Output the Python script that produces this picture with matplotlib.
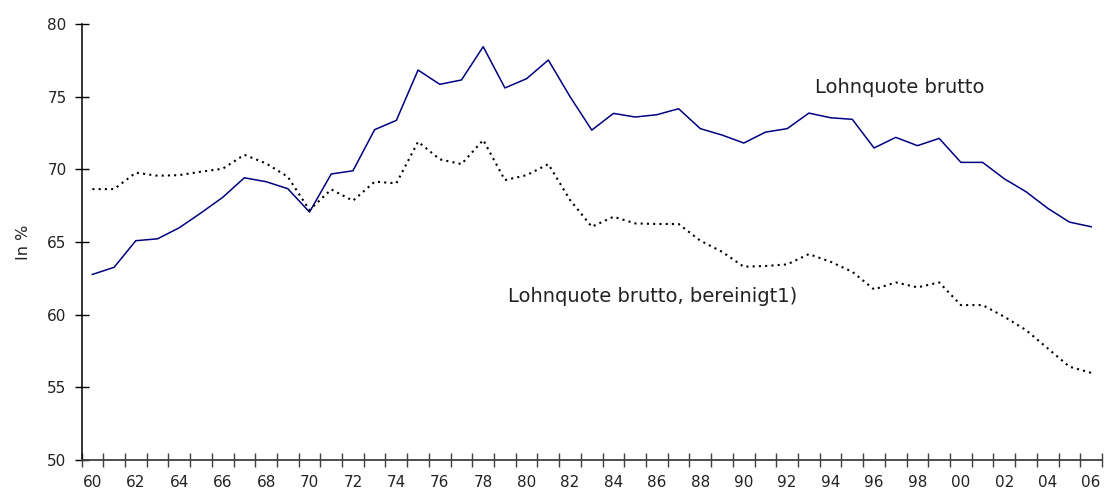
import numpy as np
import matplotlib
matplotlib.use("Agg")
from matplotlib import pyplot as plt

# Lohnquote 1960-2006, in %
years = list(range(1960, 2007))
brutto = [62.77, 63.26, 65.09, 65.22, 65.98, 67.0, 68.07, 69.42, 69.15, 68.67,
          67.06, 69.68, 69.9, 72.73, 73.37, 76.83, 75.85, 76.15, 78.44, 75.6,
          76.24, 77.52, 75.0, 72.7, 73.85, 73.6, 73.76, 74.17, 72.8, 72.36,
          71.81, 72.56, 72.8, 73.87, 73.55, 73.44, 71.47, 72.2, 71.63, 72.13,
          70.48, 70.48, 69.35, 68.46, 67.32, 66.37, 66.05]
bereinigt = [68.64, 68.64, 69.77, 69.56, 69.6, 69.84, 70.04, 71.0, 70.41, 69.49,
             67.2, 68.62, 67.84, 69.15, 69.04, 71.9, 70.69, 70.36, 72.02, 69.26,
             69.6, 70.36, 67.89, 66.05, 66.74, 66.28, 66.24, 66.24, 65.09, 64.33,
             63.3, 63.35, 63.46, 64.17, 63.64, 62.95, 61.74, 62.22, 61.88, 62.22,
             60.66, 60.66, 59.86, 58.94, 57.68, 56.42, 56.0]
year_labels = ['%02d' % (y % 100) for y in years[::2]]

txt = '#222222'
fig = plt.figure(figsize=(11.06, 4.97), dpi=100)
ax = fig.add_axes([0.0737, 0.0744, 0.9227, 0.8773])

x = np.arange(len(years))
ax.plot(x, brutto, color='#000080', lw=1.1)
ax.plot(x, bereinigt, color='black', lw=1.5, ls=(0, (1, 2)))

ax.text(33.3, 75.66, 'Lohnquote brutto', fontsize=14, color=txt, va='center')
ax.text(19.15, 61.28, 'Lohnquote brutto, bereinigt1)', fontsize=14, color=txt, va='center')

# Format plot.
ax.set_xlim(-0.5, len(years) - 0.5)
ax.set_ylim(50, 80)
ax.set_yticks(range(50, 81, 5))
ax.set_xticks(np.arange(-0.5, len(years), 1))
ax.set_xticklabels([])
ax.set_xticks(x[::2], minor=True)
ax.set_xticklabels(year_labels, minor=True)
ax.tick_params(axis='x', which='major', direction='inout', length=9.5, width=1, color='#404040')
ax.tick_params(axis='x', which='minor', length=0, pad=11, labelsize=11, labelcolor=txt)
ax.tick_params(axis='y', direction='inout', length=9.5, width=1, labelsize=11, labelcolor=txt, pad=6)

ax.spines['top'].set_visible(False)
ax.spines['right'].set_visible(False)
ax.spines['bottom'].set_color('#404040')
ax.spines['bottom'].set_linewidth(1.3)
ax.spines['left'].set_linewidth(1.1)
ax.set_ylabel('In %', fontsize=11.5, color=txt, labelpad=12)

fig.savefig('out.png', dpi=100)
